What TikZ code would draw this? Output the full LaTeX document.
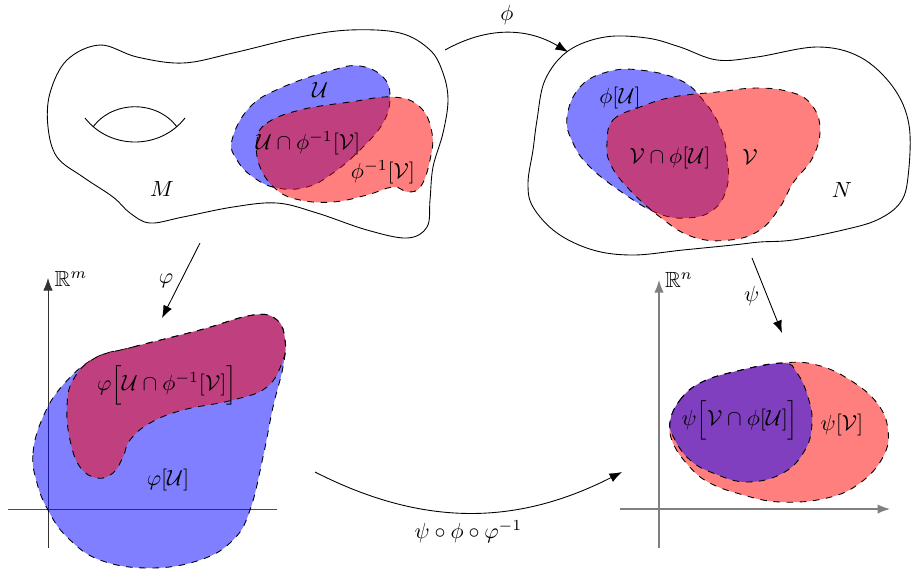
\documentclass[tikz,border=0pt]{standalone}
\usepackage{amsmath,amssymb}
\usepackage{xcolor}
\usetikzlibrary{arrows.meta}

\tikzset{
  surface/.style={draw, thin},
  region/.style={draw, dashed, thin, fill opacity=0.5},
  map/.style={-{Latex[length=2mm]}, thin},
}

\begin{document}
\begin{tikzpicture}[x=0.016cm, y=-0.016cm]
  \useasboundingbox (0,0) rectangle (911,570);
  \draw[surface] plot[smooth cycle, tension=0.6] coordinates {(100,45) (137,57) (183,63) (233,53) (300,37) (350,30) (400,33) (430,50) (443,73) (448,100) (443,133) (433,167) (430,200) (427,227) (407,238) (367,230) (317,213) (277,203) (233,207) (183,217) (150,223) (130,213) (113,197) (83,177) (57,157) (48,127) (50,93) (67,60)};
  \draw (85,118) .. controls (110,150) and (160,150) .. (185,118);
  \draw (93,127) .. controls (113,100) and (157,100) .. (177,127);
  \draw[region, fill=blue] plot[smooth cycle, tension=0.7] coordinates {(232,140) (250,107) (283,87) (333,70) (360,66) (383,77) (390,97) (383,123) (360,150) (333,173) (307,187) (277,188) (253,177) (237,160)};
  \draw[region, fill=red] plot[smooth cycle, tension=0.7] coordinates {(257,140) (267,123) (300,110) (350,102) (393,97) (420,107) (432,133) (430,160) (421,186) (408,192) (393,187) (367,195) (333,202) (300,200) (277,190) (260,167)};

  \draw[surface] plot[smooth cycle, tension=0.6] coordinates {(568,51) (605,37) (647,38) (680,47) (717,60) (757,57) (817,47) (860,57) (893,87) (909,125) (908,177) (900,203) (877,220) (843,230) (793,240) (760,242) (733,245) (683,250) (633,255) (593,250) (557,233) (533,207) (528,183) (533,150) (537,120) (545,80)};
  \draw[region, fill=blue] plot[smooth cycle, tension=0.7] coordinates {(567,117) (580,87) (607,72) (640,70) (680,80) (703,100) (720,127) (727,157) (727,187) (713,210) (687,218) (657,213) (623,193) (590,167) (573,143)};
  \draw[region, fill=red] plot[smooth cycle, tension=0.7] coordinates {(607,143) (613,120) (640,107) (673,97) (717,92) (757,88) (790,92) (810,103) (820,127) (813,157) (793,183) (780,207) (760,230) (730,240) (693,237) (660,217) (627,187) (610,163)};

  \draw[-{Latex[length=2mm]}, black!80] (48,548) -- (48,278);
  \draw[black!70] (8,509) -- (277,509);
  \draw[region, fill=blue] plot[smooth cycle, tension=0.7] coordinates {(37,483) (33,453) (43,417) (63,385) (95,358) (133,347) (200,330) (253,315) (277,320) (285,340) (283,367) (273,407) (263,457) (250,510) (233,540) (200,560) (150,568) (100,560) (67,537) (48,510)};
  \draw[region, fill=red] plot[smooth cycle, tension=0.7] coordinates {(95,358) (133,347) (200,330) (253,315) (277,320) (285,340) (283,360) (267,387) (233,400) (183,410) (150,423) (130,440) (123,457) (113,473) (97,478) (80,467) (70,440) (67,407) (73,380)};

  \draw[-{Latex[length=2mm]}, gray, semithick] (659,548) -- (659,280);
  \draw[-{Latex[length=2mm]}, gray, semithick] (620,509) -- (890,509);
  \draw[region, fill=red] plot[smooth cycle, tension=0.7] coordinates {(670,422) (680,400) (700,383) (733,372) (782,363) (817,365) (850,380) (877,403) (888,430) (883,457) (860,483) (827,498) (780,502) (740,494) (708,482) (688,465) (673,443)};
  \draw[region, fill=blue] plot[smooth cycle, tension=0.7] coordinates {(670,422) (680,400) (700,383) (733,372) (782,363) (797,373) (808,397) (812,423) (805,450) (783,473) (747,482) (713,473) (690,460) (675,440)};

  \node (M) at (162,189) {$M$};
  \node (N) at (842,190) {$N$};
  \node (U) at (320,90) {$\mathcal{U}$};
  \node (UcapV) at (308,143) {$\mathcal{U}\cap\phi^{-1}[\mathcal{V}]$};
  \node (preV) at (383,172) {$\phi^{-1}[\mathcal{V}]$};
  \node (phiU) at (620,98) {$\phi[\mathcal{U}]$};
  \node (VcapU) at (670,158) {$\mathcal{V}\cap\phi[\mathcal{U}]$};
  \node (V) at (750,157) {$\mathcal{V}$};
  \node (Rm) at (71,279) {$\mathbb{R}^m$};
  \node (Rn) at (679,280) {$\mathbb{R}^n$};
  \node (chartUV) at (167,385) {$\varphi\Big[\mathcal{U}\cap\phi^{-1}[\mathcal{V}]\Big]$};
  \node (chartU) at (168,480) {$\varphi[\mathcal{U}]$};
  \node (chartVU) at (740,420) {$\psi\Big[\mathcal{V}\cap\phi[\mathcal{U}]\Big]$};
  \node (chartV) at (842,425) {$\psi[\mathcal{V}]$};

  \coordinate (phiS) at (445,50);
  \coordinate (phiE) at (568,52);
  \coordinate (varphiS) at (200,243);
  \coordinate (varphiE) at (162,318);
  \coordinate (psiS) at (752,258);
  \coordinate (psiE) at (782,333);
  \coordinate (transS) at (315,472);
  \coordinate (transE) at (622,472);
  \draw[map] (phiS) to[bend left=30] node[midway, above] {$\phi$} (phiE);
  \draw[map] (varphiS) -- (varphiE) node[midway, left] {$\varphi$};
  \draw[map] (psiS) -- (psiE) node[midway, left] {$\psi$};
  \draw[map] (transS) to[bend right=27] node[midway, below] {$\psi\circ\phi\circ\varphi^{-1}$} (transE);
\end{tikzpicture}
\end{document}
